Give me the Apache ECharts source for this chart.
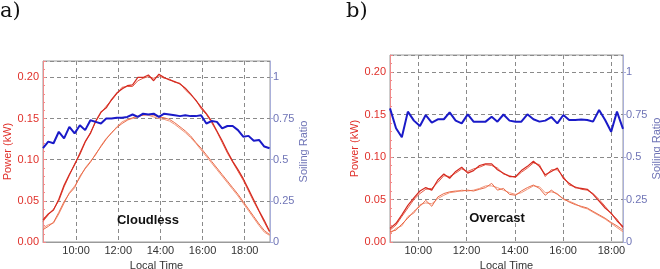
<!DOCTYPE html>
<html><head><meta charset="utf-8">
<script src="https://cdn.jsdelivr.net/npm/echarts@6/dist/echarts.min.js"></script>
<style>html,body{margin:0;padding:0;background:#fff}#c{width:660px;height:269px}</style>
</head><body><div id="c"></div>
<script>
// ---- data (hours of local time) ----
const times1 = [8.43,8.68,8.93,9.18,9.43,9.68,9.93,10.18,10.43,10.68,10.93,11.18,11.43,11.68,11.93,12.18,12.43,12.68,12.93,13.18,13.43,13.68,13.93,14.18,14.43,14.68,14.93,15.18,15.43,15.68,15.93,16.18,16.43,16.68,16.93,17.18,17.43,17.68,17.93,18.18,18.43,18.68,18.93,19.18];
const cloudlessCleanA = [0.027,0.034,0.039,0.052,0.069,0.082,0.094,0.108,0.122,0.132,0.147,0.158,0.163,0.173,0.181,0.186,0.190,0.191,0.200,0.200,0.203,0.196,0.204,0.200,0.197,0.195,0.192,0.187,0.180,0.172,0.164,0.156,0.147,0.135,0.123,0.110,0.098,0.088,0.077,0.064,0.051,0.038,0.026,0.013];
const cloudlessCleanB = [0.025,0.033,0.040,0.050,0.067,0.081,0.095,0.106,0.121,0.133,0.146,0.157,0.165,0.172,0.180,0.188,0.189,0.189,0.196,0.199,0.201,0.199,0.202,0.199,0.198,0.194,0.193,0.185,0.179,0.173,0.162,0.155,0.145,0.134,0.121,0.108,0.097,0.086,0.075,0.062,0.049,0.037,0.024,0.012];
const cloudlessSoiledA = [0.015,0.019,0.024,0.036,0.049,0.059,0.066,0.080,0.089,0.097,0.107,0.116,0.125,0.133,0.139,0.144,0.148,0.151,0.153,0.154,0.155,0.154,0.152,0.151,0.149,0.145,0.140,0.135,0.129,0.121,0.114,0.106,0.098,0.090,0.082,0.074,0.066,0.058,0.049,0.040,0.031,0.022,0.014,0.009];
const cloudlessSoiledB = [0.017,0.021,0.023,0.034,0.047,0.060,0.068,0.078,0.090,0.098,0.106,0.117,0.126,0.132,0.140,0.146,0.149,0.150,0.152,0.155,0.154,0.152,0.150,0.149,0.147,0.143,0.138,0.133,0.127,0.120,0.112,0.104,0.096,0.088,0.080,0.072,0.064,0.056,0.047,0.038,0.029,0.020,0.012,0.008];
const cloudlessRatio = [0.57,0.61,0.60,0.67,0.63,0.70,0.66,0.71,0.68,0.74,0.73,0.72,0.75,0.75,0.755,0.755,0.76,0.775,0.76,0.78,0.775,0.78,0.76,0.78,0.775,0.77,0.765,0.77,0.765,0.765,0.77,0.72,0.735,0.73,0.69,0.705,0.705,0.68,0.64,0.645,0.615,0.62,0.58,0.57];

const times2 = [8.83,9.08,9.32,9.57,9.82,10.07,10.31,10.56,10.81,11.06,11.30,11.55,11.80,12.05,12.29,12.54,12.79,13.04,13.28,13.53,13.78,14.03,14.27,14.52,14.77,15.02,15.26,15.51,15.76,16.01,16.25,16.50,16.75,17.00,17.24,17.49,17.74,17.99,18.23,18.48];
const overcastCleanA = [0.016,0.022,0.032,0.043,0.052,0.060,0.064,0.061,0.073,0.080,0.075,0.083,0.088,0.081,0.084,0.090,0.092,0.092,0.085,0.081,0.077,0.077,0.084,0.089,0.095,0.089,0.079,0.083,0.087,0.075,0.069,0.064,0.063,0.062,0.056,0.048,0.040,0.034,0.025,0.018];
const overcastCleanB = [0.014,0.020,0.030,0.040,0.050,0.057,0.062,0.063,0.070,0.078,0.077,0.081,0.086,0.083,0.086,0.088,0.091,0.090,0.087,0.080,0.078,0.076,0.082,0.087,0.093,0.091,0.077,0.085,0.085,0.077,0.067,0.065,0.062,0.061,0.057,0.050,0.042,0.033,0.027,0.016];
const overcastSoiledA = [0.012,0.014,0.021,0.028,0.036,0.042,0.049,0.042,0.053,0.057,0.059,0.060,0.060,0.061,0.060,0.062,0.064,0.069,0.061,0.063,0.056,0.055,0.060,0.064,0.067,0.063,0.055,0.061,0.056,0.051,0.047,0.044,0.042,0.040,0.036,0.032,0.028,0.023,0.019,0.014];
const overcastSoiledB = [0.010,0.016,0.019,0.030,0.034,0.044,0.046,0.045,0.051,0.055,0.058,0.059,0.061,0.060,0.061,0.063,0.066,0.066,0.064,0.061,0.058,0.056,0.058,0.062,0.066,0.065,0.058,0.059,0.057,0.050,0.048,0.045,0.041,0.039,0.035,0.031,0.027,0.022,0.017,0.012];
const overcastRatio = [0.786,0.669,0.616,0.767,0.714,0.682,0.747,0.702,0.722,0.722,0.763,0.714,0.698,0.751,0.708,0.708,0.708,0.737,0.708,0.75,0.714,0.708,0.708,0.751,0.722,0.708,0.714,0.735,0.698,0.747,0.718,0.718,0.72,0.718,0.708,0.776,0.718,0.649,0.767,0.665];

const timeTicks = [10, 12, 14, 16, 18];
const panelTags = ['a)', 'b)'];
const panelTitles = ['Cloudless', 'Overcast'];

// ---- styling ----
const FONT = 'Liberation Sans, Arial, sans-serif';
const RED = '#e0302a', RED_AXIS = '#f08a8a', BLUE_LBL = '#6f74b6', BLUE_AXIS = '#aab0da';
const lineColors = ['#d42a20', '#e85a45', '#ea6a48', '#f29478'];

function pairs(t, v) { return t.map((x, i) => [x, v[i]]); }

function xAxisFor(idx, min, max) {
  return {
    type: 'value', gridIndex: idx, min: min, max: max,
    name: 'Local Time', nameLocation: 'middle', nameGap: 17,
    nameTextStyle: { color: '#333', fontSize: 11, fontFamily: FONT },
    axisLine: { show: true, lineStyle: { color: '#9a9a9a' } },
    axisTick: { show: false, customValues: timeTicks },
    axisLabel: { customValues: timeTicks, formatter: v => v + ':00', color: '#333', fontSize: 11, fontFamily: FONT, margin: 3 },
    splitLine: { show: true, lineStyle: { color: '#8a8a8a', type: [4, 3], width: 1 } }
  };
}
function yLeft(idx, gap) {
  return {
    type: 'value', gridIndex: idx, position: 'left', min: 0, max: 0.22, interval: 0.05,
    name: 'Power (kW)', nameLocation: 'middle', nameGap: gap, nameRotate: 90,
    nameTextStyle: { color: RED, fontSize: 11, fontFamily: FONT },
    axisLine: { show: true, lineStyle: { color: RED_AXIS } },
    axisTick: { show: true, inside: true, length: 3, lineStyle: { color: RED_AXIS } },
    minorTick: { show: true, splitNumber: 5, length: 2, lineStyle: { color: RED_AXIS } },
    axisLabel: { formatter: v => v.toFixed(2), color: RED, fontSize: 11, fontFamily: FONT, margin: 4, showMaxLabel: false },
    splitLine: { show: true, lineStyle: { color: '#8a8a8a', type: [4, 3], width: 1 } }
  };
}
function yRight(idx) {
  return {
    type: 'value', gridIndex: idx, position: 'right', min: 0, max: 1.1, interval: 0.25,
    name: 'Soiling Ratio', nameLocation: 'middle', nameGap: 26, nameRotate: 90,
    nameTextStyle: { color: BLUE_LBL, fontSize: 11, fontFamily: FONT },
    axisLine: { show: true, lineStyle: { color: BLUE_AXIS } },
    axisTick: { show: true, length: 3, lineStyle: { color: BLUE_AXIS } },
    axisLabel: { color: BLUE_LBL, fontSize: 11, fontFamily: FONT, margin: 3, showMaxLabel: false },
    splitLine: { show: false }
  };
}
function redSeries(xi, yi, t, v, c, w) {
  return { type: 'line', xAxisIndex: xi, yAxisIndex: yi, data: pairs(t, v), symbol: 'none',
    lineStyle: { color: c, width: w }, z: 3, silent: true, animation: false };
}
function blueSeries(xi, yi, t, v) {
  return { type: 'line', xAxisIndex: xi, yAxisIndex: yi, data: pairs(t, v), symbol: 'none',
    lineStyle: { color: '#1a1ac8', width: 2 }, z: 4, silent: true, animation: false };
}

const chart = echarts.init(document.getElementById('c'), null, { renderer: 'canvas' });
chart.setOption({
  animation: false,
  backgroundColor: '#fff',
  grid: [
    { left: 43, top: 61, width: 227, height: 181, show: true, borderColor: '#9a9a9a', borderWidth: 1, containLabel: false, outerBoundsMode: 'none' },
    { left: 390, top: 55, width: 233, height: 187, show: true, borderColor: '#9a9a9a', borderWidth: 1, containLabel: false, outerBoundsMode: 'none' }
  ],
  xAxis: [xAxisFor(0, 8.43, 19.2), xAxisFor(1, 8.83, 18.48)],
  yAxis: [yLeft(0, 25), yRight(0), yLeft(1, 29), yRight(1)],
  series: [
    redSeries(0, 0, times1, cloudlessSoiledB, lineColors[3], 1),
    redSeries(0, 0, times1, cloudlessSoiledA, lineColors[2], 1),
    redSeries(0, 0, times1, cloudlessCleanB, lineColors[1], 1),
    redSeries(0, 0, times1, cloudlessCleanA, lineColors[0], 1.2),
    blueSeries(0, 1, times1, cloudlessRatio),
    redSeries(1, 2, times2, overcastSoiledB, lineColors[3], 1),
    redSeries(1, 2, times2, overcastSoiledA, lineColors[2], 1),
    redSeries(1, 2, times2, overcastCleanB, lineColors[1], 1),
    redSeries(1, 2, times2, overcastCleanA, lineColors[0], 1.2),
    blueSeries(1, 3, times2, overcastRatio)
  ],
  graphic: [
    { type: 'text', left: 0, top: 1, style: { text: panelTags[0], font: '21px "DejaVu Serif", serif', fill: '#111' } },
    { type: 'text', left: 346, top: 1, style: { text: panelTags[1], font: '21px "DejaVu Serif", serif', fill: '#111' } },
    { type: 'text', x: 148, y: 220, style: { text: panelTitles[0], font: 'bold 13px ' + FONT, fill: '#111', align: 'center', verticalAlign: 'middle' }, z: 10 },
    { type: 'text', x: 497, y: 218, style: { text: panelTitles[1], font: 'bold 13px ' + FONT, fill: '#111', align: 'center', verticalAlign: 'middle' }, z: 10 }
  ]
});
</script>
</body></html>
